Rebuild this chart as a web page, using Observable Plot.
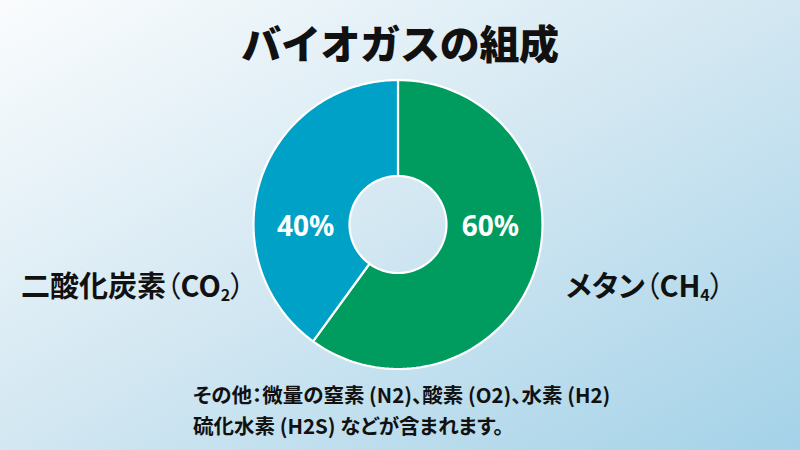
<!DOCTYPE html>
<html lang="ja">
<head>
<meta charset="utf-8">
<script src="https://cdn.jsdelivr.net/npm/d3@7"></script>
<script src="https://cdn.jsdelivr.net/npm/@observablehq/plot@0.6"></script>
<style>
  html, body { margin: 0; padding: 0; }
  body { width: 800px; height: 450px; overflow: hidden; }
  #wrap {
    position: relative; width: 800px; height: 450px;
    background: linear-gradient(to bottom right, #FAFCFD 0%, #D2E7F2 50%, #A4D2E8 100%);
    font-family: "Noto Sans CJK JP", "Noto Sans", sans-serif; color: #111;
  }
  #title {
    position: absolute; left: 0; width: 800px; top: 14px; text-align: center;
    font-size: 40px; font-weight: 900; line-height: 56px; letter-spacing: -0.3px;
  }
  #chart { position: absolute; left: 0; top: 0; }
  #chart svg { background: transparent; overflow: visible; }
  .side {
    position: absolute; font-size: 29px; font-weight: 700; line-height: 32px; white-space: nowrap;
    font-feature-settings: "palt";
  }
  .side .p { font-weight: 400; }
  .side sub { font-size: 16px; vertical-align: -4px; line-height: 0; }
  #left { left: 21px; top: 268px; }
  #right { left: 566px; top: 268px; }
  #note {
    position: absolute; left: 193px; top: 379px; font-size: 20.5px; font-weight: 700; line-height: 31px;
    white-space: nowrap; letter-spacing: 0px; font-feature-settings: "palt";
  }
</style>
</head>
<body>
<div id="wrap">
  <div id="title"></div>
  <div id="chart"></div>
  <div id="left" class="side"></div>
  <div id="right" class="side"></div>
  <div id="note"></div>
</div>
<script>
// ---- data ----
const title = "バイオガスの組成";
const categories = ["メタン", "二酸化炭素"];
const formulas = ["CH", "CO"];
const subscripts = ["4", "2"];
const values = [60, 40];
const colors = ["#009B5F", "#00A1C7"];
const noteLines = [
  "その他：微量の窒素 (N2)、酸素 (O2)、水素 (H2)",
  "硫化水素 (H2S) などが含まれます。"
];

// ---- geometry ----
const cx = 397.5, cy = 224, R = 144.5, inner = 48.5 / 144.5;
const total = d3.sum(values);
const pie = [];
let acc = 0;
values.forEach((v, i) => {
  const a0 = acc / total * 2 * Math.PI;
  acc += v;
  const a1 = acc / total * 2 * Math.PI;
  pie.push({cat: categories[i], value: v, a0, a1});
});

// polygon points for each annular sector
const pts = [];
pie.forEach(s => {
  const n = 120;
  const ring = [];
  for (let k = 0; k <= n; k++) {
    const a = s.a0 + (s.a1 - s.a0) * k / n;
    ring.push({cat: s.cat, x: Math.sin(a), y: Math.cos(a)});
  }
  for (let k = n; k >= 0; k--) {
    const a = s.a0 + (s.a1 - s.a0) * k / n;
    ring.push({cat: s.cat, x: inner * Math.sin(a), y: inner * Math.cos(a)});
  }
  ring.push(ring[0]);
  pts.push(...ring);
});

const labels = pie.map(s => {
  const mid = (s.a0 + s.a1) / 2;
  return {cat: s.cat, text: s.value + "%", x: 0.64 * Math.sign(Math.sin(mid)), y: -0.02};
});

const chart = Plot.plot({
  width: 800, height: 450,
  margin: 0,
  style: {background: "transparent", overflow: "visible"},
  x: {domain: [-1, 1], range: [cx - R, cx + R], axis: null},
  y: {domain: [-1, 1], range: [cy + R, cy - R], axis: null},
  color: {domain: categories, range: colors},
  marks: [
    Plot.line(pts, {x: "x", y: "y", z: "cat", fill: "cat", stroke: "white", strokeWidth: 2.2, strokeLinejoin: "round", curve: "linear"}),
    Plot.text(labels, {x: "x", y: "y", text: "text", fill: "white", fontSize: 28, fontWeight: 700,
      fontFamily: "'Noto Sans', 'Open Sans', sans-serif", dy: 0})
  ]
});
document.getElementById("chart").appendChild(chart);

document.getElementById("title").textContent = title;
const side = i => categories[i] + "<span class='p'>（</span>" + formulas[i] + "<sub>" + subscripts[i] + "</sub><span class='p'>）</span>";
document.getElementById("left").innerHTML = side(1);
document.getElementById("right").innerHTML = side(0);
document.getElementById("note").innerHTML = noteLines.join("<br>");
</script>
</body>
</html>
